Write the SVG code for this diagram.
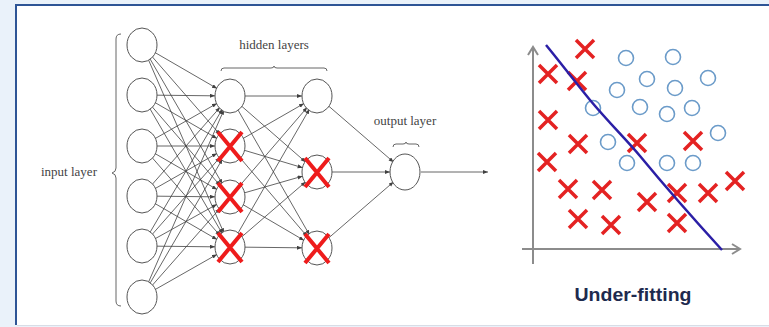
<svg xmlns="http://www.w3.org/2000/svg" xmlns:xlink="http://www.w3.org/1999/xlink" width="769" height="327" viewBox="0 0 769 327">
<style>
.node{fill:#ffffff;stroke:#555555;stroke-width:1}
.edge{stroke:#404040;stroke-width:0.8;fill:none;marker-end:url(#ah)}
.drop{stroke:#ee1c1c;stroke-width:4;stroke-linecap:butt;fill:none}
.lbl{font-family:"Liberation Serif","DejaVu Serif",serif;font-size:13px;fill:#444444}
.brace{stroke:#666666;stroke-width:1;fill:none}
.ax{stroke:#8c8c8c;stroke-width:2;fill:none}
.rx{stroke:#e42222;stroke-width:3.5;fill:none}
.bo{stroke:#6b9bc9;stroke-width:1.6;fill:none}
</style>
<defs>
<marker id="ah" markerUnits="userSpaceOnUse" markerWidth="30" markerHeight="6" refX="20" refY="2" orient="auto"><path d="M0,0 L5,2 L0,4 z" fill="#404040"/></marker>
<marker id="ah2" markerUnits="userSpaceOnUse" markerWidth="8" markerHeight="6" refX="5" refY="2" orient="auto"><path d="M0,0 L5,2 L0,4 z" fill="#404040"/></marker>
<marker id="axh" markerUnits="userSpaceOnUse" markerWidth="12" markerHeight="12" refX="9" refY="6" orient="auto"><path d="M1,1 L9,6 L1,11" fill="none" stroke="#8c8c8c" stroke-width="2"/></marker>
<path id="cx" d="M-9,-9 L9,9 M9,-9 L-9,9"/>
</defs>
<rect x="0" y="0" width="769" height="327" fill="#eaf2fa"/>
<rect x="17" y="6" width="760" height="319" fill="#ffffff"/>
<line x1="16" y1="5" x2="16" y2="325" stroke="#2e5596" stroke-width="2"/>
<line x1="15" y1="5" x2="769" y2="5" stroke="#2e5596" stroke-width="2"/>
<line x1="17" y1="325.5" x2="769" y2="325.5" stroke="#d8dde6" stroke-width="1"/>

<g id="connectors">
<line class="edge" x1="142" y1="45" x2="230" y2="96"/>
<line class="edge" x1="142" y1="45" x2="230" y2="146"/>
<line class="edge" x1="142" y1="45" x2="230" y2="197"/>
<line class="edge" x1="142" y1="45" x2="230" y2="247"/>
<line class="edge" x1="142" y1="95" x2="230" y2="96"/>
<line class="edge" x1="142" y1="95" x2="230" y2="146"/>
<line class="edge" x1="142" y1="95" x2="230" y2="197"/>
<line class="edge" x1="142" y1="95" x2="230" y2="247"/>
<line class="edge" x1="142" y1="146" x2="230" y2="96"/>
<line class="edge" x1="142" y1="146" x2="230" y2="146"/>
<line class="edge" x1="142" y1="146" x2="230" y2="197"/>
<line class="edge" x1="142" y1="146" x2="230" y2="247"/>
<line class="edge" x1="142" y1="196" x2="230" y2="96"/>
<line class="edge" x1="142" y1="196" x2="230" y2="146"/>
<line class="edge" x1="142" y1="196" x2="230" y2="197"/>
<line class="edge" x1="142" y1="196" x2="230" y2="247"/>
<line class="edge" x1="142" y1="246" x2="230" y2="96"/>
<line class="edge" x1="142" y1="246" x2="230" y2="146"/>
<line class="edge" x1="142" y1="246" x2="230" y2="197"/>
<line class="edge" x1="142" y1="246" x2="230" y2="247"/>
<line class="edge" x1="142" y1="297" x2="230" y2="96"/>
<line class="edge" x1="142" y1="297" x2="230" y2="146"/>
<line class="edge" x1="142" y1="297" x2="230" y2="197"/>
<line class="edge" x1="142" y1="297" x2="230" y2="247"/>
<line class="edge" x1="230" y1="96" x2="317" y2="96"/>
<line class="edge" x1="230" y1="96" x2="317" y2="172"/>
<line class="edge" x1="230" y1="96" x2="317" y2="248"/>
<line class="edge" x1="230" y1="146" x2="317" y2="96"/>
<line class="edge" x1="230" y1="146" x2="317" y2="172"/>
<line class="edge" x1="230" y1="146" x2="317" y2="248"/>
<line class="edge" x1="230" y1="197" x2="317" y2="96"/>
<line class="edge" x1="230" y1="197" x2="317" y2="172"/>
<line class="edge" x1="230" y1="197" x2="317" y2="248"/>
<line class="edge" x1="230" y1="247" x2="317" y2="96"/>
<line class="edge" x1="230" y1="247" x2="317" y2="172"/>
<line class="edge" x1="230" y1="247" x2="317" y2="248"/>
<line class="edge" x1="317" y1="96" x2="405" y2="172"/>
<line class="edge" x1="317" y1="172" x2="405" y2="172"/>
<line class="edge" x1="317" y1="248" x2="405" y2="172"/>
<line x1="421" y1="172" x2="488" y2="172" stroke="#404040" stroke-width="0.8" marker-end="url(#ah2)"/>
</g>

<g id="input-layer">
<ellipse class="node" cx="142" cy="45" rx="15" ry="17"/>
<ellipse class="node" cx="142" cy="95" rx="15" ry="17"/>
<ellipse class="node" cx="142" cy="146" rx="15" ry="17"/>
<ellipse class="node" cx="142" cy="196" rx="15" ry="17"/>
<ellipse class="node" cx="142" cy="246" rx="15" ry="17"/>
<ellipse class="node" cx="142" cy="297" rx="15" ry="17"/>
<path class="brace" d="M121,34 Q116,34 116,39 L116,168 Q116,172 112,173 Q116,174 116,178 L116,301 Q116,306 121,306"/>
<text class="lbl" x="41" y="176">input layer</text>
</g>

<g id="hidden-layer-1">
<ellipse class="node" cx="230" cy="96" rx="15" ry="17"/>
<ellipse class="node" cx="230" cy="146" rx="15" ry="17"/>
<ellipse class="node" cx="230" cy="197" rx="15" ry="17"/>
<ellipse class="node" cx="230" cy="247" rx="15" ry="17"/>
<path class="drop" d="M218,132 L242,161 M242,132 L218,161"/>
<path class="drop" d="M218,183 L242,212 M242,183 L218,212"/>
<path class="drop" d="M218,233 L242,262 M242,233 L218,262"/>
</g>

<g id="hidden-layer-2">
<ellipse class="node" cx="317" cy="96" rx="15" ry="17"/>
<ellipse class="node" cx="317" cy="172" rx="15" ry="17"/>
<ellipse class="node" cx="317" cy="248" rx="15" ry="17"/>
<path class="drop" d="M305,158 L329,187 M329,158 L305,187"/>
<path class="drop" d="M305,234 L329,263 M329,234 L305,263"/>
</g>

<g id="hidden-label">
<text class="lbl" x="274" y="49" text-anchor="middle">hidden layers</text>
<path class="brace" d="M221,71 Q221,68 224,68 L271,68 Q274,68 274,66 Q274,68 277,68 L324,68 Q327,68 327,71"/>
</g>

<g id="output-layer">
<ellipse class="node" cx="405" cy="172" rx="15" ry="18"/>
<text class="lbl" x="405" y="125" text-anchor="middle">output layer</text>
<path class="brace" d="M393,147 Q393,144 396,144 L403,144 Q406,144 406,142 Q406,144 409,144 L416,144 Q419,144 419,147"/>
</g>

<g id="underfitting-chart">
<line class="ax" x1="533" y1="264" x2="533" y2="47" marker-end="url(#axh)"/>
<line class="ax" x1="522" y1="249" x2="740" y2="249" marker-end="url(#axh)"/>
<g class="rx">
<use xlink:href="#cx" x="585" y="49"/>
<use xlink:href="#cx" x="548" y="74"/>
<use xlink:href="#cx" x="577" y="81"/>
<use xlink:href="#cx" x="548" y="120"/>
<use xlink:href="#cx" x="578" y="144"/>
<use xlink:href="#cx" x="637" y="143"/>
<use xlink:href="#cx" x="693" y="141"/>
<use xlink:href="#cx" x="547" y="162"/>
<use xlink:href="#cx" x="568" y="189"/>
<use xlink:href="#cx" x="602" y="190"/>
<use xlink:href="#cx" x="647" y="202"/>
<use xlink:href="#cx" x="677" y="193"/>
<use xlink:href="#cx" x="708" y="193"/>
<use xlink:href="#cx" x="735" y="181"/>
<use xlink:href="#cx" x="578" y="219"/>
<use xlink:href="#cx" x="611" y="225"/>
<use xlink:href="#cx" x="677" y="223"/>
</g>
<g class="bo">
<circle cx="626" cy="58" r="7.5"/>
<circle cx="673" cy="57" r="7.5"/>
<circle cx="647" cy="79" r="7.5"/>
<circle cx="708" cy="78" r="7.5"/>
<circle cx="617" cy="90" r="7.5"/>
<circle cx="675" cy="88" r="7.5"/>
<circle cx="593" cy="108" r="7.5"/>
<circle cx="640" cy="107" r="7.5"/>
<circle cx="667" cy="114" r="7.5"/>
<circle cx="692" cy="108" r="7.5"/>
<circle cx="718" cy="133" r="7.5"/>
<circle cx="608" cy="142" r="7.5"/>
<circle cx="627" cy="163" r="7.5"/>
<circle cx="667" cy="163" r="7.5"/>
<circle cx="693" cy="163" r="7.5"/>
</g>
<path d="M546,45 C560,62 572,78 590,100 C610,124 625,138 640,156 C668,190 690,215 722,250" stroke="#2b1fa6" stroke-width="2.5" fill="none"/>
<text x="633" y="301" text-anchor="middle" font-family="'Liberation Sans','Open Sans',sans-serif" font-weight="bold" font-size="18" fill="#1e2a4e" textLength="117" lengthAdjust="spacingAndGlyphs">Under-fitting</text>
</g>
</svg>
